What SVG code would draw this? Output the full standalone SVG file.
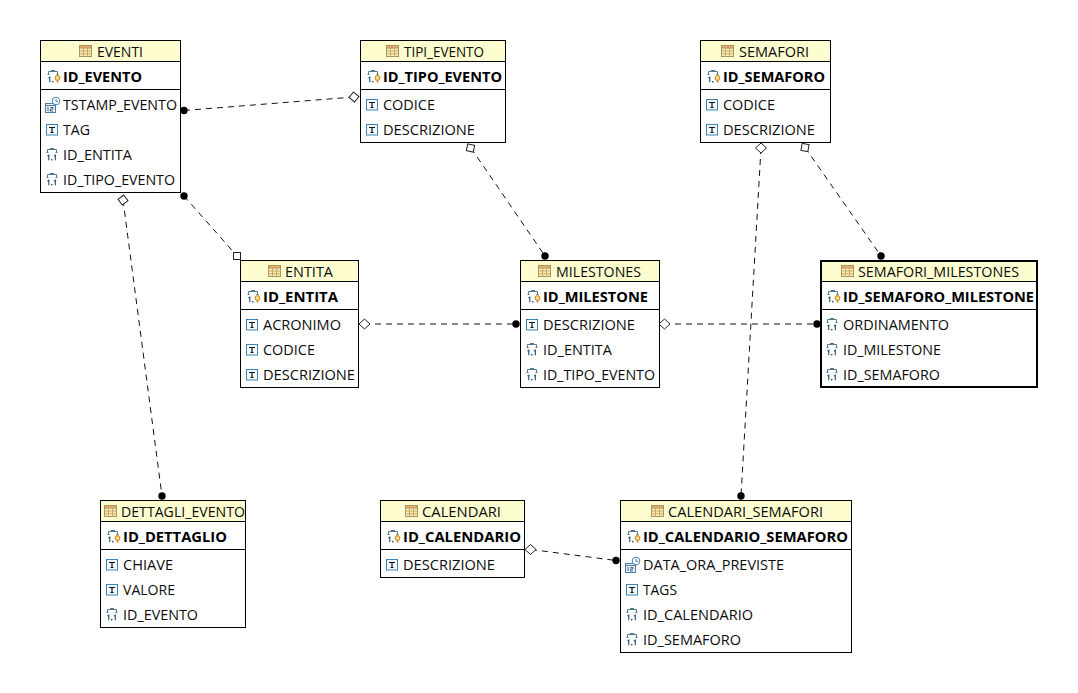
<svg xmlns="http://www.w3.org/2000/svg" xmlns:xlink="http://www.w3.org/1999/xlink" width="1078" height="693" viewBox="0 0 1078 693">
<style>
text{font-family:"Open Sans","Noto Sans","Liberation Sans",sans-serif;font-size:14.5px;fill:#0c0c0c}
.pk{font-weight:700;fill:#000}
.box{fill:#fff;stroke:#000;stroke-width:1}
.head{fill:#fdfdcf;stroke:#000;stroke-width:1}
.sep{stroke:#000;stroke-width:1;fill:none}
.thick{stroke-width:2}
.conn{stroke:#111;stroke-width:1;stroke-dasharray:6 5;fill:none}
.dot{fill:#000;stroke:none}
.open{fill:#fff;stroke:#222;stroke-width:1}
</style>
<defs>
<g id="i-table"><rect x="0.500" y="0.500" width="12" height="11" fill="#fbeeb4" stroke="#a9915c"/><rect x="0.500" y="0.500" width="12" height="2.500" fill="#e9b070" stroke="#a9915c"/><path d="M4.500 3v8.500M8.500 3v8.500M0.500 6h12M0.500 8.800h12" stroke="#c8a868" fill="none"/></g>
<g id="i-text"><rect x="0.500" y="1.500" width="11" height="10.500" fill="#f4f9fd" stroke="#3f84b5"/><path d="M3 4.500h6M6 4.500v5M4.500 9.500h3" stroke="#111" stroke-width="1.200" fill="none"/></g>
<g id="i-fk"><path d="M1.500 4.500v-3h9v3M0.500 4.500h2M9.500 4.500h2" stroke="#55798f" fill="none"/><path d="M4 0.500h4" stroke="#55798f"/><path d="M1.500 8l1.300-.8v5M8 8l1.300-.8v5" stroke="#1f4a68" stroke-width="1.100" fill="none"/><rect x="5" y="11" width="1.400" height="1.400" fill="#1f4a68"/></g>
<g id="i-pk"><path d="M1.500 4.500v-3h9v3M0.500 4.500h2M9.500 4.500h2" stroke="#55798f" fill="none"/><path d="M4 0.500h4" stroke="#55798f"/><path d="M1.500 8l1.300-.8v5" stroke="#1f4a68" stroke-width="1.100" fill="none"/><rect x="5" y="11" width="1.400" height="1.400" fill="#1f4a68"/><circle cx="10.500" cy="8" r="2.400" fill="#fbe08a" stroke="#c8801c"/><path d="M10.500 10v2.500" stroke="#c8801c" stroke-width="1.500"/></g>
<g id="i-date"><rect x="0.500" y="6.500" width="10" height="9" fill="#e8f0f6" stroke="#4f7c9f"/><path d="M0.500 8.500h10" stroke="#4f7c9f"/><path d="M3 10v4M5.500 10.500h2.500v1.500h-2.500v2h2.500" stroke="#3a6a92" fill="none"/><circle cx="11" cy="4" r="3.800" fill="#fff" stroke="#3f84b5"/><path d="M11 2v2.300h2" stroke="#4f7c9f" fill="none"/></g>
</defs>

<g id="connectors">
<path class="conn" d="M184 110.500L354 97"/>
<path class="conn" d="M184 196L237 256"/>
<path class="conn" d="M123 200L162 496"/>
<path class="conn" d="M471 148L545 256"/>
<path class="conn" d="M761 148L741 496"/>
<path class="conn" d="M805 147.500L881 256"/>
<path class="conn" d="M364 324L516 324"/>
<path class="conn" d="M664 324L817 324"/>
<path class="conn" d="M531 549.500L616 560.500"/>
<circle class="dot" cx="184" cy="110.500" r="3.700"/>
<circle class="dot" cx="184" cy="196" r="3.700"/>
<circle class="dot" cx="162" cy="496" r="3.700"/>
<circle class="dot" cx="545" cy="256" r="3.700"/>
<circle class="dot" cx="741" cy="496" r="3.700"/>
<circle class="dot" cx="881" cy="256" r="3.700"/>
<circle class="dot" cx="516" cy="324" r="3.700"/>
<circle class="dot" cx="817" cy="324" r="3.700"/>
<circle class="dot" cx="616" cy="560.500" r="3.700"/>
<rect class="open" x="233.500" y="252.500" width="7" height="7"/>
<rect class="open" x="467" y="144.500" width="7" height="7" transform="rotate(12 470.500 148)"/>
<rect class="open" x="801.500" y="144" width="7" height="7" transform="rotate(10 805 147.500)"/>
<path class="open" d="M354 92l5 5-5 5-5-5z" transform="rotate(-5 354 97)"/>
<path class="open" d="M123 195l5 5-5 5-5-5z" transform="rotate(8 123 200)"/>
<path class="open" d="M761 143l5.500 5-5.500 5-5.500-5z"/>
<path class="open" d="M364.500 319l5.500 5-5.500 5-5.500-5z"/>
<path class="open" d="M664.500 319l5.500 5-5.500 5-5.500-5z"/>
<path class="open" d="M530.500 544.500l5.500 5-5.500 5-5.500-5z"/>
</g>

<g id="node-eventi">
<rect class="box" x="40.500" y="40.500" width="140" height="152"/>
<rect class="head" x="40.500" y="40.500" width="140" height="21"/>
<path class="sep" d="M40.500 89.500h140"/>
<use xlink:href="#i-table" x="79" y="45"/>
<text x="97" y="57" textLength="46" lengthAdjust="spacingAndGlyphs">EVENTI</text>
<use xlink:href="#i-pk" x="47" y="70"/>
<text class="pk" x="63" y="82" textLength="79" lengthAdjust="spacingAndGlyphs">ID_EVENTO</text>
<use xlink:href="#i-date" x="45" y="97"/>
<text x="63" y="110" textLength="114" lengthAdjust="spacingAndGlyphs">TSTAMP_EVENTO</text>
<use xlink:href="#i-text" x="46" y="123"/>
<text x="63" y="135" textLength="27" lengthAdjust="spacingAndGlyphs">TAG</text>
<use xlink:href="#i-fk" x="46" y="148"/>
<text x="63" y="160" textLength="69" lengthAdjust="spacingAndGlyphs">ID_ENTITA</text>
<use xlink:href="#i-fk" x="46" y="173"/>
<text x="63" y="185" textLength="112" lengthAdjust="spacingAndGlyphs">ID_TIPO_EVENTO</text>
</g>

<g id="node-tipi-evento">
<rect class="box" x="360.500" y="40.500" width="145" height="102"/>
<rect class="head" x="360.500" y="40.500" width="145" height="21"/>
<path class="sep" d="M360.500 89.500h145"/>
<use xlink:href="#i-table" x="386" y="45"/>
<text x="404" y="57" textLength="80" lengthAdjust="spacingAndGlyphs">TIPI_EVENTO</text>
<use xlink:href="#i-pk" x="367" y="70"/>
<text class="pk" x="383" y="82" textLength="119" lengthAdjust="spacingAndGlyphs">ID_TIPO_EVENTO</text>
<use xlink:href="#i-text" x="366" y="98"/>
<text x="383" y="110" textLength="52" lengthAdjust="spacingAndGlyphs">CODICE</text>
<use xlink:href="#i-text" x="366" y="123"/>
<text x="383" y="135" textLength="92" lengthAdjust="spacingAndGlyphs">DESCRIZIONE</text>
</g>

<g id="node-semafori">
<rect class="box" x="700.500" y="40.500" width="130" height="102"/>
<rect class="head" x="700.500" y="40.500" width="130" height="21"/>
<path class="sep" d="M700.500 89.500h130"/>
<use xlink:href="#i-table" x="721" y="45"/>
<text x="739" y="57" textLength="70" lengthAdjust="spacingAndGlyphs">SEMAFORI</text>
<use xlink:href="#i-pk" x="707" y="70"/>
<text class="pk" x="723" y="82" textLength="102" lengthAdjust="spacingAndGlyphs">ID_SEMAFORO</text>
<use xlink:href="#i-text" x="706" y="98"/>
<text x="723" y="110" textLength="52" lengthAdjust="spacingAndGlyphs">CODICE</text>
<use xlink:href="#i-text" x="706" y="123"/>
<text x="723" y="135" textLength="92" lengthAdjust="spacingAndGlyphs">DESCRIZIONE</text>
</g>

<g id="node-entita">
<rect class="box" x="240.500" y="260.500" width="118" height="127"/>
<rect class="head" x="240.500" y="260.500" width="118" height="21"/>
<path class="sep" d="M240.500 309.500h118"/>
<use xlink:href="#i-table" x="268" y="265"/>
<text x="285" y="277" textLength="48" lengthAdjust="spacingAndGlyphs">ENTITA</text>
<use xlink:href="#i-pk" x="247" y="290"/>
<text class="pk" x="263" y="302" textLength="75" lengthAdjust="spacingAndGlyphs">ID_ENTITA</text>
<use xlink:href="#i-text" x="246" y="318"/>
<text x="263" y="330" textLength="78" lengthAdjust="spacingAndGlyphs">ACRONIMO</text>
<use xlink:href="#i-text" x="246" y="343"/>
<text x="263" y="355" textLength="52" lengthAdjust="spacingAndGlyphs">CODICE</text>
<use xlink:href="#i-text" x="246" y="368"/>
<text x="263" y="380" textLength="92" lengthAdjust="spacingAndGlyphs">DESCRIZIONE</text>
</g>

<g id="node-milestones">
<rect class="box" x="520.500" y="260.500" width="139" height="127"/>
<rect class="head" x="520.500" y="260.500" width="139" height="21"/>
<path class="sep" d="M520.500 309.500h139"/>
<use xlink:href="#i-table" x="538" y="265"/>
<text x="556" y="277" textLength="85" lengthAdjust="spacingAndGlyphs">MILESTONES</text>
<use xlink:href="#i-pk" x="527" y="290"/>
<text class="pk" x="543" y="302" textLength="105" lengthAdjust="spacingAndGlyphs">ID_MILESTONE</text>
<use xlink:href="#i-text" x="526" y="318"/>
<text x="543" y="330" textLength="92" lengthAdjust="spacingAndGlyphs">DESCRIZIONE</text>
<use xlink:href="#i-fk" x="526" y="343"/>
<text x="543" y="355" textLength="69" lengthAdjust="spacingAndGlyphs">ID_ENTITA</text>
<use xlink:href="#i-fk" x="526" y="368"/>
<text x="543" y="380" textLength="112" lengthAdjust="spacingAndGlyphs">ID_TIPO_EVENTO</text>
</g>

<g id="node-semafori-milestones">
<rect class="head" x="821" y="261" width="216" height="20.500"/>
<rect class="box thick" x="821" y="261" width="216" height="126" style="fill:none"/>
<path class="sep" d="M821 309.500h216"/>
<use xlink:href="#i-table" x="841" y="265"/>
<text x="858" y="277" textLength="161" lengthAdjust="spacingAndGlyphs">SEMAFORI_MILESTONES</text>
<use xlink:href="#i-pk" x="827" y="290"/>
<text class="pk" x="843" y="302" textLength="191" lengthAdjust="spacingAndGlyphs">ID_SEMAFORO_MILESTONE</text>
<use xlink:href="#i-fk" x="826" y="318"/>
<text x="843" y="330" textLength="106" lengthAdjust="spacingAndGlyphs">ORDINAMENTO</text>
<use xlink:href="#i-fk" x="826" y="343"/>
<text x="843" y="355" textLength="98" lengthAdjust="spacingAndGlyphs">ID_MILESTONE</text>
<use xlink:href="#i-fk" x="826" y="368"/>
<text x="843" y="380" textLength="97" lengthAdjust="spacingAndGlyphs">ID_SEMAFORO</text>
</g>

<g id="node-dettagli-evento">
<rect class="box" x="100.500" y="500.500" width="145" height="127"/>
<rect class="head" x="100.500" y="500.500" width="145" height="21"/>
<path class="sep" d="M100.500 549.500h145"/>
<use xlink:href="#i-table" x="104" y="505"/>
<text x="121" y="517" textLength="124" lengthAdjust="spacingAndGlyphs">DETTAGLI_EVENTO</text>
<use xlink:href="#i-pk" x="107" y="530"/>
<text class="pk" x="123" y="542" textLength="104" lengthAdjust="spacingAndGlyphs">ID_DETTAGLIO</text>
<use xlink:href="#i-text" x="106" y="558"/>
<text x="123" y="570" textLength="50" lengthAdjust="spacingAndGlyphs">CHIAVE</text>
<use xlink:href="#i-text" x="106" y="583"/>
<text x="123" y="595" textLength="52" lengthAdjust="spacingAndGlyphs">VALORE</text>
<use xlink:href="#i-fk" x="106" y="608"/>
<text x="123" y="620" textLength="75" lengthAdjust="spacingAndGlyphs">ID_EVENTO</text>
</g>

<g id="node-calendari">
<rect class="box" x="380.500" y="500.500" width="144" height="77"/>
<rect class="head" x="380.500" y="500.500" width="144" height="21"/>
<path class="sep" d="M380.500 549.500h144"/>
<use xlink:href="#i-table" x="405" y="505"/>
<text x="422" y="517" textLength="79" lengthAdjust="spacingAndGlyphs">CALENDARI</text>
<use xlink:href="#i-pk" x="387" y="530"/>
<text class="pk" x="403" y="542" textLength="118" lengthAdjust="spacingAndGlyphs">ID_CALENDARIO</text>
<use xlink:href="#i-text" x="386" y="558"/>
<text x="403" y="570" textLength="92" lengthAdjust="spacingAndGlyphs">DESCRIZIONE</text>
</g>

<g id="node-calendari-semafori">
<rect class="box" x="620.500" y="500.500" width="231" height="152"/>
<rect class="head" x="620.500" y="500.500" width="231" height="21"/>
<path class="sep" d="M620.500 549.500h231"/>
<use xlink:href="#i-table" x="651" y="505"/>
<text x="668" y="517" textLength="155" lengthAdjust="spacingAndGlyphs">CALENDARI_SEMAFORI</text>
<use xlink:href="#i-pk" x="627" y="530"/>
<text class="pk" x="643" y="542" textLength="205" lengthAdjust="spacingAndGlyphs">ID_CALENDARIO_SEMAFORO</text>
<use xlink:href="#i-date" x="625" y="557"/>
<text x="643" y="570" textLength="141" lengthAdjust="spacingAndGlyphs">DATA_ORA_PREVISTE</text>
<use xlink:href="#i-text" x="626" y="583"/>
<text x="643" y="595" textLength="34" lengthAdjust="spacingAndGlyphs">TAGS</text>
<use xlink:href="#i-fk" x="626" y="608"/>
<text x="643" y="620" textLength="110" lengthAdjust="spacingAndGlyphs">ID_CALENDARIO</text>
<use xlink:href="#i-fk" x="626" y="633"/>
<text x="643" y="645" textLength="98" lengthAdjust="spacingAndGlyphs">ID_SEMAFORO</text>
</g>
</svg>
